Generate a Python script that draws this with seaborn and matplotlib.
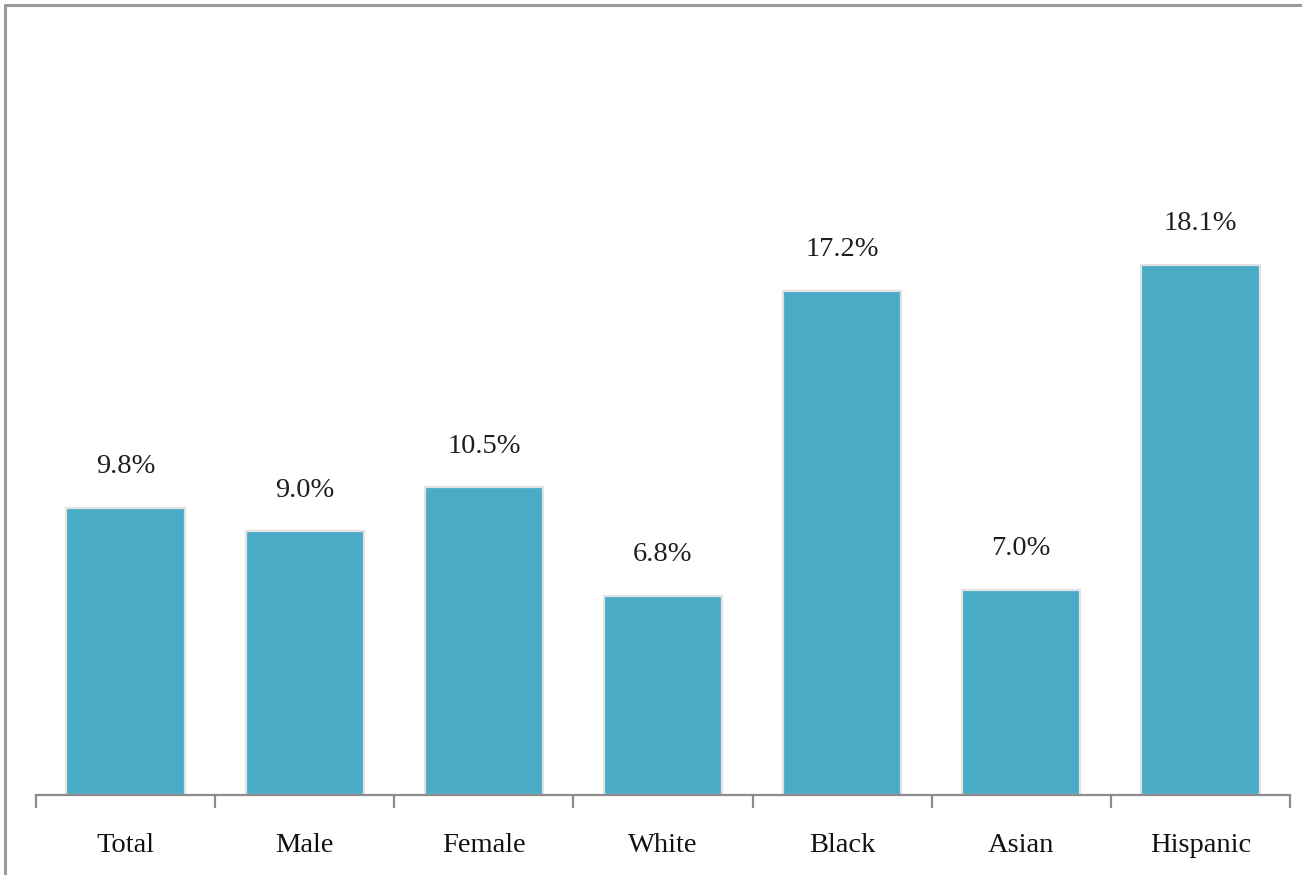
import matplotlib
matplotlib.use("Agg")
import matplotlib.pyplot as plt
from matplotlib.lines import Line2D
from matplotlib.ticker import FixedLocator
import seaborn as sns
import pandas as pd

categories = ["Total", "Male", "Female", "White", "Black", "Asian", "Hispanic"]
values = [9.8, 9.0, 10.5, 6.8, 17.2, 7.0, 18.1]
value_labels = ["9.8%", "9.0%", "10.5%", "6.8%", "17.2%", "7.0%", "18.1%"]

sns.set_style("white")
plt.rcParams["font.family"] = ["Liberation Serif", "DejaVu Serif"]

W, H = 1302, 875
fig = plt.figure(figsize=(W / 100, H / 100), dpi=100)
ax = fig.add_axes([36 / W, 80 / H, (1290 - 36) / W, 762 / H])

df = pd.DataFrame({"group": categories, "rate": values})
sns.barplot(data=df, x="group", y="rate", color="#4AABC6", saturation=1,
            width=0.66, edgecolor="#e2e2e2", linewidth=1.6, ax=ax)

ax.set_ylim(0, 26)
ax.set_xlim(-0.5, len(categories) - 0.5)

for i, (v, lab) in enumerate(zip(values, value_labels)):
    ax.annotate(lab, (i, v), xytext=(0, 41), textcoords="offset pixels",
                ha="center", va="center", fontsize=20.5, color="#1e1e1e")

ax.set_xlabel("")
ax.set_ylabel("")
ax.set_yticks([])
for s in ["top", "right", "left"]:
    ax.spines[s].set_visible(False)
ax.spines["bottom"].set_color("#8c8c8c")
ax.spines["bottom"].set_linewidth(1.6)

ax.tick_params(axis="x", which="major", length=0, pad=27, labelsize=20.5,
               labelcolor="#111111")
ax.xaxis.set_minor_locator(FixedLocator([i - 0.5 for i in range(len(categories) + 1)]))
ax.tick_params(axis="x", which="minor", bottom=True, length=9, width=1.6,
               color="#8c8c8c", direction="out")

# outer frame along the top and left edges
fig.add_artist(Line2D([5 / W, 1.0], [1 - 5 / H, 1 - 5 / H], transform=fig.transFigure,
                      color="#9a9a9a", linewidth=2.2))
fig.add_artist(Line2D([5 / W, 5 / W], [0.0, 1 - 5 / H], transform=fig.transFigure,
                      color="#9a9a9a", linewidth=2.2))

fig.savefig("out.png", dpi=100)
